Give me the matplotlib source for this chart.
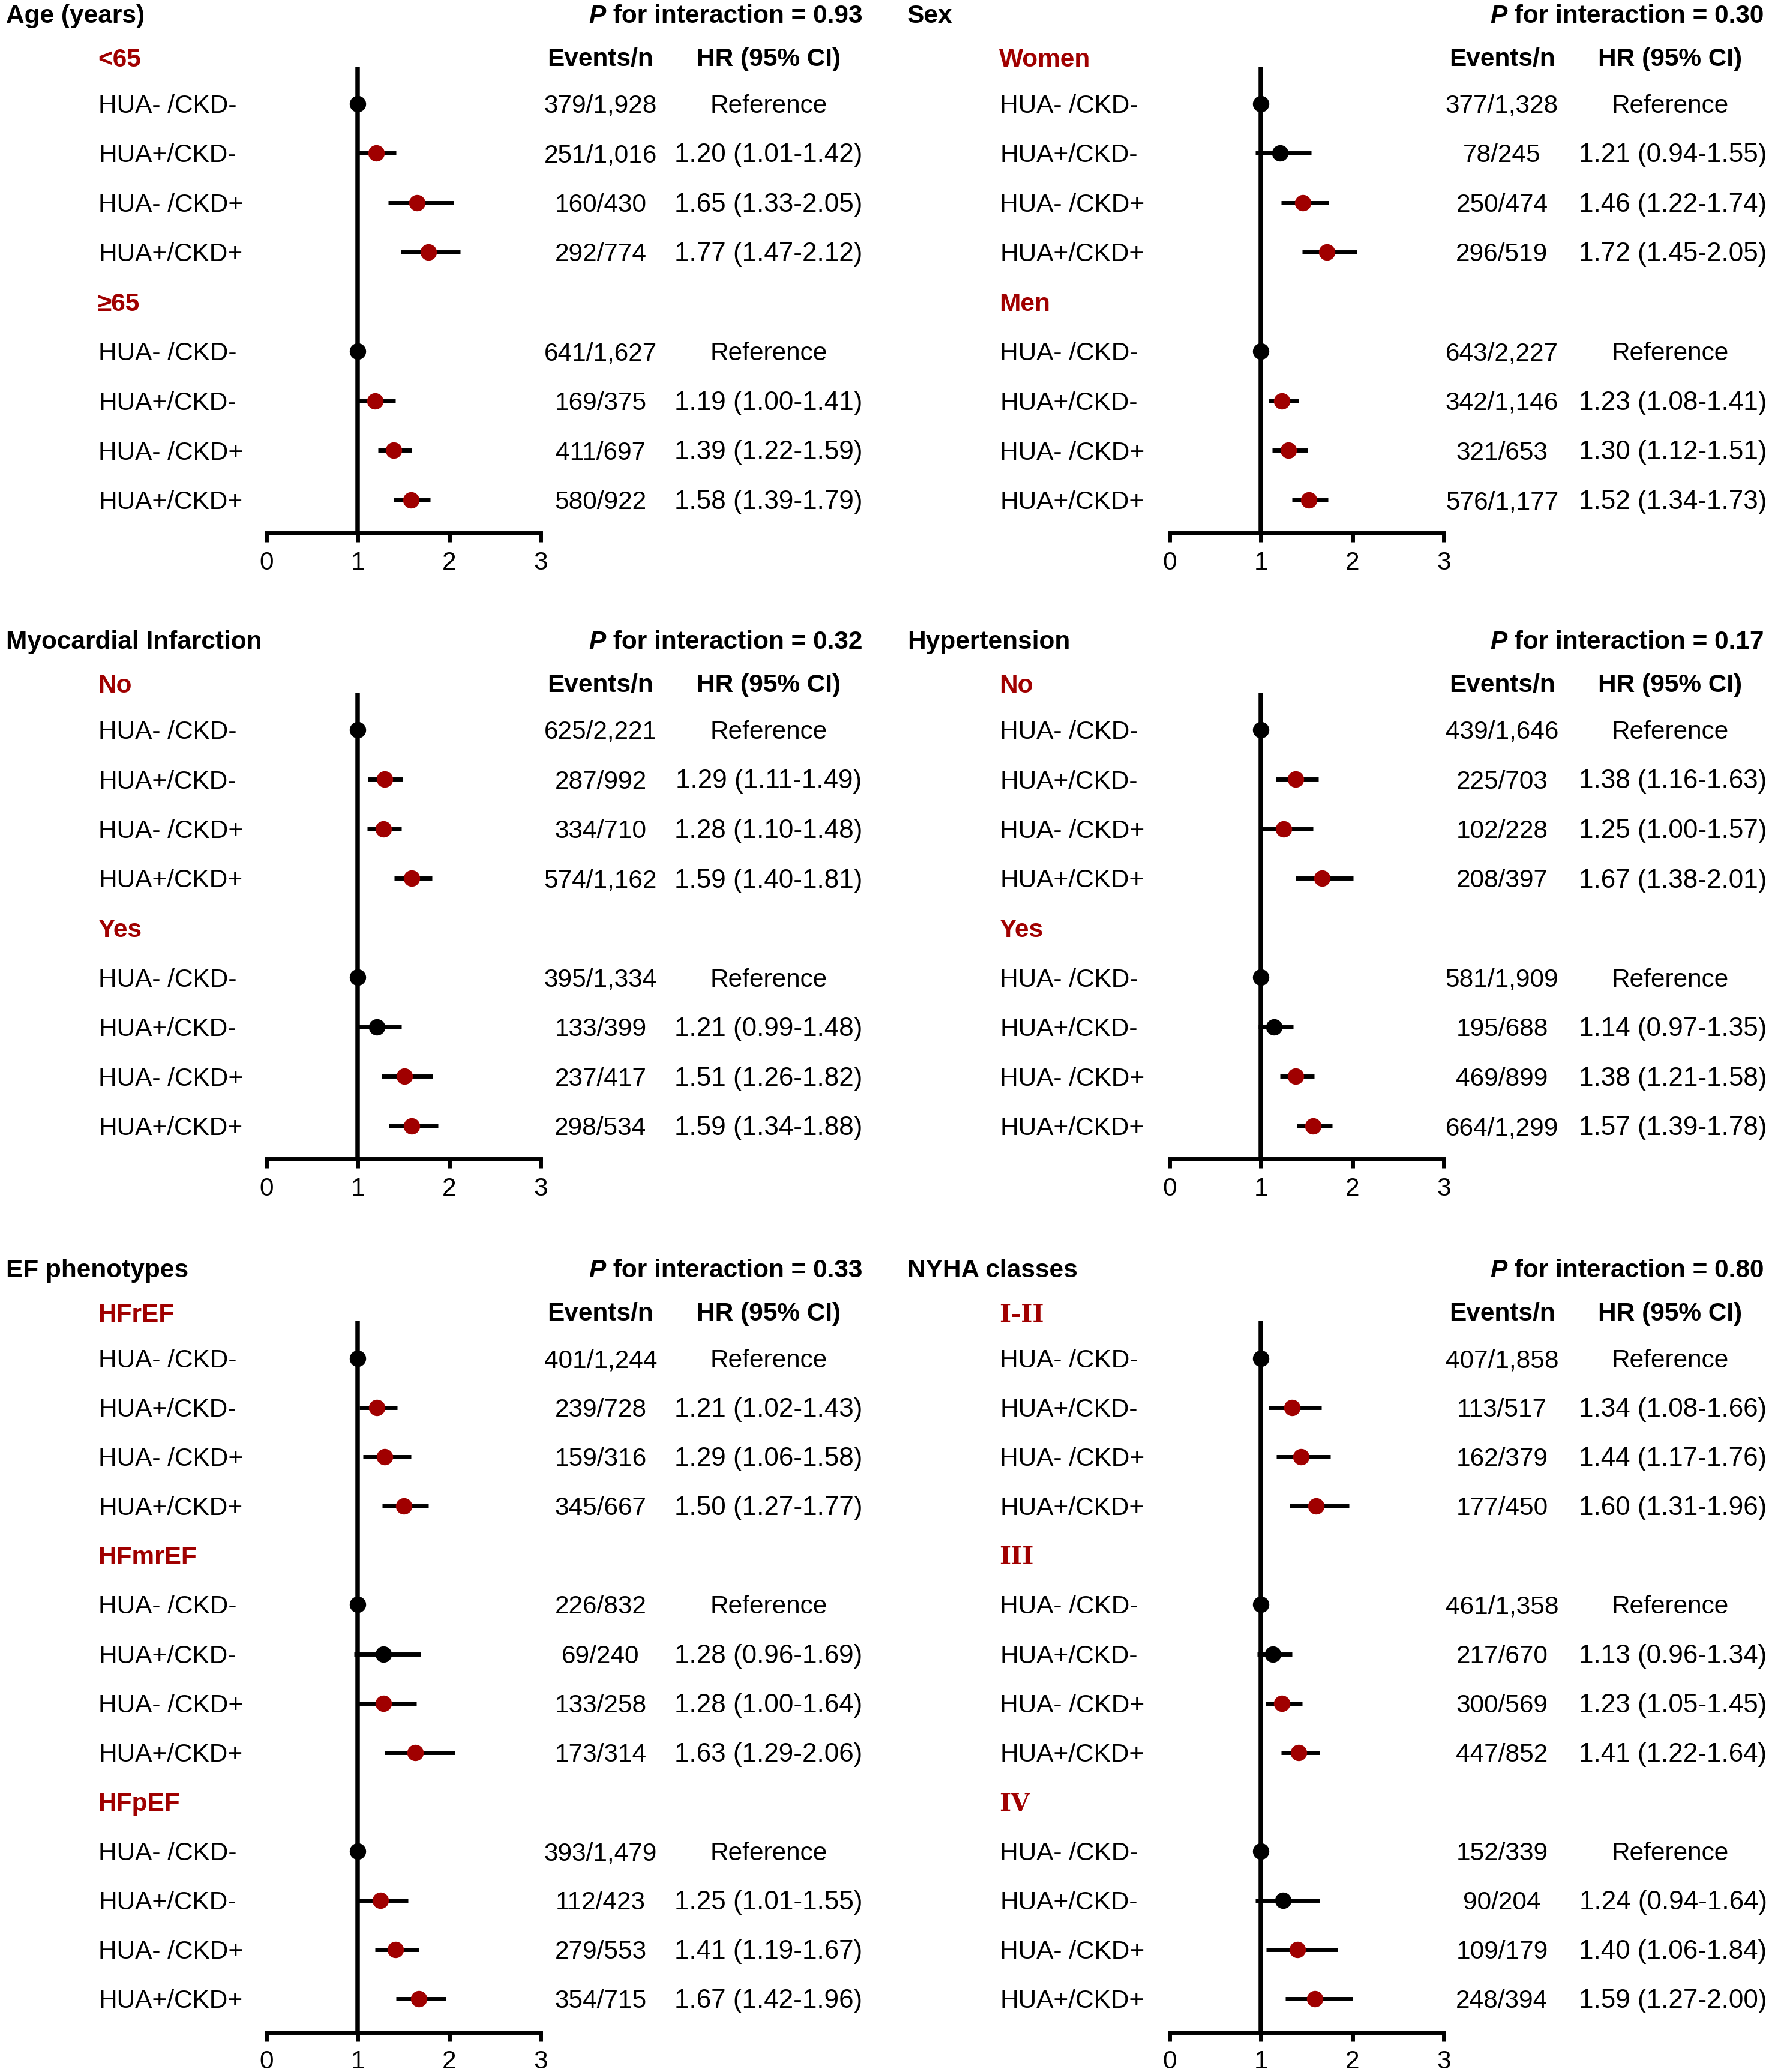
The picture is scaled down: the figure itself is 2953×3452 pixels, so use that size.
import matplotlib
matplotlib.use('Agg')
import matplotlib.pyplot as plt
from matplotlib.transforms import blended_transform_factory

plt.rcParams['font.family'] = ['Liberation Sans', 'DejaVu Sans']

RED = '#A00000'
FS = 30.5

row_labels = ['HUA- /CKD-', 'HUA+/CKD-', 'HUA- /CKD+', 'HUA+/CKD+']

titles = ['Age (years)', 'Sex', 'Myocardial Infarction', 'Hypertension',
          'EF phenotypes', 'NYHA classes']
p_values = ['0.93', '0.30', '0.32', '0.17', '0.33', '0.80']
subgroups = [['<65', '\u226565'], ['Women', 'Men'], ['No', 'Yes'], ['No', 'Yes'],
             ['HFrEF', 'HFmrEF', 'HFpEF'], ['I-II', 'III', 'IV']]

# events/n, 4 rows per subgroup
events = [
    ['379/1,928', '251/1,016', '160/430', '292/774',
     '641/1,627', '169/375', '411/697', '580/922'],
    ['377/1,328', '78/245', '250/474', '296/519',
     '643/2,227', '342/1,146', '321/653', '576/1,177'],
    ['625/2,221', '287/992', '334/710', '574/1,162',
     '395/1,334', '133/399', '237/417', '298/534'],
    ['439/1,646', '225/703', '102/228', '208/397',
     '581/1,909', '195/688', '469/899', '664/1,299'],
    ['401/1,244', '239/728', '159/316', '345/667',
     '226/832', '69/240', '133/258', '173/314',
     '393/1,479', '112/423', '279/553', '354/715'],
    ['407/1,858', '113/517', '162/379', '177/450',
     '461/1,358', '217/670', '300/569', '447/852',
     '152/339', '90/204', '109/179', '248/394'],
]

# hazard ratios for the 3 non-reference rows of each subgroup
hr = [
    [1.20, 1.65, 1.77, 1.19, 1.39, 1.58],
    [1.21, 1.46, 1.72, 1.23, 1.30, 1.52],
    [1.29, 1.28, 1.59, 1.21, 1.51, 1.59],
    [1.38, 1.25, 1.67, 1.14, 1.38, 1.57],
    [1.21, 1.29, 1.50, 1.28, 1.28, 1.63, 1.25, 1.41, 1.67],
    [1.34, 1.44, 1.60, 1.13, 1.23, 1.41, 1.24, 1.40, 1.59],
]
hr_lo = [
    [1.01, 1.33, 1.47, 1.00, 1.22, 1.39],
    [0.94, 1.22, 1.45, 1.08, 1.12, 1.34],
    [1.11, 1.10, 1.40, 0.99, 1.26, 1.34],
    [1.16, 1.00, 1.38, 0.97, 1.21, 1.39],
    [1.02, 1.06, 1.27, 0.96, 1.00, 1.29, 1.01, 1.19, 1.42],
    [1.08, 1.17, 1.31, 0.96, 1.05, 1.22, 0.94, 1.06, 1.27],
]
hr_hi = [
    [1.42, 2.05, 2.12, 1.41, 1.59, 1.79],
    [1.55, 1.74, 2.05, 1.41, 1.51, 1.73],
    [1.49, 1.48, 1.81, 1.48, 1.82, 1.88],
    [1.63, 1.57, 2.01, 1.35, 1.58, 1.78],
    [1.43, 1.58, 1.77, 1.69, 1.64, 2.06, 1.55, 1.67, 1.96],
    [1.66, 1.76, 1.96, 1.34, 1.45, 1.64, 1.64, 1.84, 2.00],
]

W, H = 2953, 3452
row_px = [82.5, 82.5, 82.1]      # px between rows, per panel row
first_row = [173, 1216, 2263]
EV_X, HR_X, P_X = 1001, 1281, 1437

fig = plt.figure(figsize=(W / 100, H / 100), dpi=100)
renderer = fig.canvas.get_renderer()


def fx(px):
    return px / W


def fy(px):
    return 1 - px / H


for k in range(6):
    ao = 1505 * (k % 2)   # forest axes offset
    xo = 1502 * (k % 2)   # text offset
    hx = HR_X + xo + 5 * (k % 2)
    y0 = first_row[k // 2]
    ROW = row_px[k // 2]
    BASE = 15 / ROW       # baseline offset from row centre (in rows)
    ng = len(subgroups[k])
    n = ng * 5 - 1
    top_px = y0 - 62
    bot_px = y0 + (n - 1) * ROW + 55.5
    ax = fig.add_axes([fx(444 + ao), fy(bot_px), 457 / W, (bot_px - top_px) / H])
    ax.set_xlim(0, 3)
    ax.set_ylim(n - 1 + 55.5 / ROW, -62 / ROW)
    for s in ['top', 'right', 'left']:
        ax.spines[s].set_visible(False)
    ax.spines['bottom'].set_linewidth(5)
    ax.set_yticks([])
    ax.set_xticks([0, 1, 2, 3])
    ax.tick_params(axis='x', length=11, width=5, labelsize=FS, pad=10)
    ax.axvline(1, color='black', lw=5.4, zorder=1)

    tr = blended_transform_factory(fig.transFigure, ax.transData)

    # panel title and interaction p
    yb = fy(y0 - 150 + 15)
    fig.text(fx(10 + xo), yb, titles[k], fontsize=FS, weight='bold', va='baseline')
    t = fig.text(fx(P_X + xo), yb, ' for interaction = ' + p_values[k],
                 fontsize=FS, weight='bold', ha='right', va='baseline')
    bb = t.get_window_extent(renderer)
    fig.text(bb.x0 / W, yb, 'P', fontsize=FS, weight='bold', style='italic',
             ha='right', va='baseline')

    # column headers
    ax.text(fx(EV_X + xo), -0.95 + BASE, 'Events/n', transform=tr, fontsize=FS,
            weight='bold', ha='center', va='baseline')
    ax.text(fx(HR_X + xo), -0.95 + BASE, 'HR (95% CI)', transform=tr, fontsize=FS,
            weight='bold', ha='center', va='baseline')

    for g in range(ng):
        hy = -0.93 if g == 0 else 5 * g - 1
        if k == 5:
            ax.text(fx(163 + xo), hy + BASE, subgroups[k][g], transform=tr,
                    fontsize=FS - 1, weight='bold', color=RED, va='baseline',
                    family='DejaVu Serif')
        else:
            ax.text(fx(163 + xo), hy + BASE, subgroups[k][g], transform=tr,
                    fontsize=FS, weight='bold', color=RED, va='baseline')
        for j in range(4):
            r = 5 * g + j
            ax.text(fx(164 + xo), r + BASE, row_labels[j], transform=tr,
                    fontsize=FS, va='baseline')
            ax.text(fx(EV_X + xo), r + BASE, events[k][4 * g + j], transform=tr,
                    fontsize=FS, ha='center', va='baseline')
            if j == 0:
                ax.plot(1, r, 'o', color='black', ms=18.7, zorder=4, clip_on=False)
                ax.text(fx(HR_X + xo), r + BASE, 'Reference', transform=tr,
                        fontsize=FS, ha='center', va='baseline')
            else:
                i = 3 * g + j - 1
                v, lo, hi = hr[k][i], hr_lo[k][i], hr_hi[k][i]
                c = RED if lo >= 1.0 else 'black'
                ax.plot([lo, hi], [r, r], color='black', lw=5,
                        solid_capstyle='butt', zorder=2)
                ax.plot(v, r, 'o', color=c, ms=18.7, zorder=4)
                ax.text(fx(hx), r + BASE,
                        '%.2f (%.2f-%.2f)' % (v, lo, hi), transform=tr,
                        fontsize=FS + 1.2, ha='center', va='baseline')

fig.savefig('out.png', dpi=100, facecolor='white')
